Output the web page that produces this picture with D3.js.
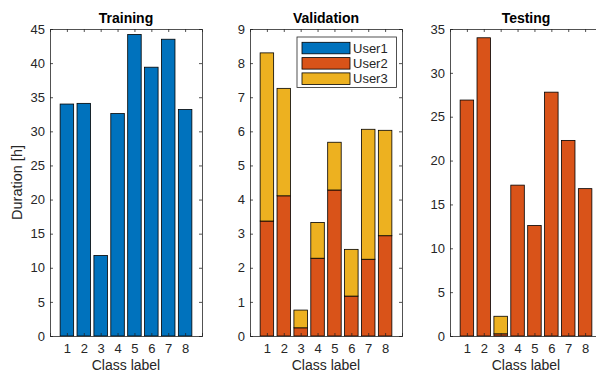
<!DOCTYPE html>
<html>
<head>
<meta charset="utf-8">
<script src="https://cdn.jsdelivr.net/npm/d3@7"></script>
<style>
  body { margin: 0; background: #fff; }
  svg { display: block; font-family: "Liberation Sans", Arial, sans-serif; }
</style>
</head>
<body>
<div id="chart"></div>
<script>
// data
var classes = [1, 2, 3, 4, 5, 6, 7, 8];
var users = ["User1", "User2", "User3"];
var colors = ["#0072BD", "#D95319", "#EDB120"];

var trainUser1 = [34.0, 34.1, 11.8, 32.6, 44.2, 39.4, 43.5, 33.2];
var trainUser2 = [0, 0, 0, 0, 0, 0, 0, 0];
var trainUser3 = [0, 0, 0, 0, 0, 0, 0, 0];

var valUser1 = [0, 0, 0, 0, 0, 0, 0, 0];
var valUser2 = [3.37, 4.11, 0.24, 2.28, 4.28, 1.17, 2.25, 2.94];
var valUser3 = [4.93, 3.15, 0.52, 1.05, 1.40, 1.37, 3.81, 3.09];

var testUser1 = [0, 0, 0, 0, 0, 0, 0, 0];
var testUser2 = [26.9, 34.0, 0.25, 17.2, 12.6, 27.8, 22.3, 16.8];
var testUser3 = [0, 0, 2.0, 0, 0, 0, 0, 0];

var yTicksTrain = [0, 5, 10, 15, 20, 25, 30, 35, 40, 45];
var yTicksVal = [0, 1, 2, 3, 4, 5, 6, 7, 8, 9];
var yTicksTest = [0, 5, 10, 15, 20, 25, 30, 35];

var W = 596, H = 373;
var axColor = "#262626";

var svg = d3.select("#chart").append("svg")
  .attr("width", W).attr("height", H);

let drawPanel = (opt) => {
  var left = opt.left, top = 29, width = 152, height = 307;

  var g = svg.append("g").attr("transform", `translate(${left}, ${top})`);

  var x = d3.scaleLinear().domain([0, 9]).range([0, width]);
  var y = d3.scaleLinear().domain([0, opt.ymax]).range([height, 0]);

  var rows = classes.map((c, i) => ({
    cls: c, User1: opt.u1[i], User2: opt.u2[i], User3: opt.u3[i]
  }));
  var series = d3.stack().keys(users)(rows);
  var bw = x(0.8) - x(0);

  series.forEach((s, k) => {
    g.append("g")
      .selectAll("rect")
      .data(s.filter((d) => d[1] - d[0] > 0))
      .enter()
      .append("rect")
      .attr("x", (d) => x(d.data.cls) - bw / 2)
      .attr("y", (d) => y(d[1]))
      .attr("width", bw)
      .attr("height", (d) => y(d[0]) - y(d[1]))
      .attr("fill", colors[k])
      .attr("stroke", "#000")
      .attr("stroke-width", 0.8);
  });

  // box with inward ticks on all sides
  var tl = 3;
  var yl = d3.axisLeft(y).tickValues(opt.yticks).tickSize(-tl).tickPadding(5);
  var yr = d3.axisRight(y).tickValues(opt.yticks).tickSize(-tl).tickFormat("");
  var xb = d3.axisBottom(x).tickValues(classes).tickSize(-tl).tickPadding(8);
  var xt = d3.axisTop(x).tickValues(classes).tickSize(-tl).tickFormat("");

  var axes = [
    g.append("g").call(yl),
    g.append("g").attr("transform", `translate(${width}, 0)`).call(yr),
    g.append("g").attr("transform", `translate(0, ${height})`).call(xb),
    g.append("g").call(xt)
  ];
  axes.forEach((a) => {
    a.select(".domain").attr("stroke", axColor).attr("stroke-width", 0.8);
    a.selectAll(".tick line").attr("stroke", axColor).attr("stroke-width", 0.8);
    a.selectAll("text").attr("fill", axColor).style("font-size", "13px")
      .style("font-family", "Liberation Sans, Arial, sans-serif");
  });

  g.append("text")
    .attr("x", width / 2).attr("y", -6)
    .attr("text-anchor", "middle")
    .style("font-size", "14px").style("font-weight", "bold")
    .attr("fill", "#000")
    .text(opt.title);

  g.append("text")
    .attr("x", width / 2).attr("y", height + 34)
    .attr("text-anchor", "middle")
    .style("font-size", "14px")
    .attr("fill", axColor)
    .text("Class label");

  if (opt.ylabel) {
    g.append("text")
      .attr("transform", `translate(-28, ${height / 2}) rotate(-90)`)
      .attr("text-anchor", "middle")
      .style("font-size", "14.5px")
      .attr("fill", axColor)
      .text(opt.ylabel);
  }

  if (opt.legend) {
    var lg = g.append("g").attr("transform", `translate(${297 - left}, ${37 - top})`);
    lg.append("rect")
      .attr("width", 99.5).attr("height", 50.5)
      .attr("fill", "#fff").attr("stroke", axColor).attr("stroke-width", 0.8);
    users.forEach((u, k) => {
      lg.append("rect")
        .attr("x", 5).attr("y", 5.3 + k * 15.3)
        .attr("width", 48).attr("height", 11.5)
        .attr("fill", colors[k]).attr("stroke", "#000").attr("stroke-width", 0.8);
      lg.append("text")
        .attr("x", 56).attr("y", 15.8 + k * 15.3)
        .style("font-size", "13px")
        .attr("fill", axColor)
        .text(u);
    });
  }
};

drawPanel({ left: 50, title: "Training", ymax: 45, yticks: yTicksTrain,
  u1: trainUser1, u2: trainUser2, u3: trainUser3, ylabel: "Duration [h]" });
drawPanel({ left: 250, title: "Validation", ymax: 9, yticks: yTicksVal,
  u1: valUser1, u2: valUser2, u3: valUser3, legend: true });
drawPanel({ left: 450, title: "Testing", ymax: 35, yticks: yTicksTest,
  u1: testUser1, u2: testUser2, u3: testUser3 });
</script>
</body>
</html>
